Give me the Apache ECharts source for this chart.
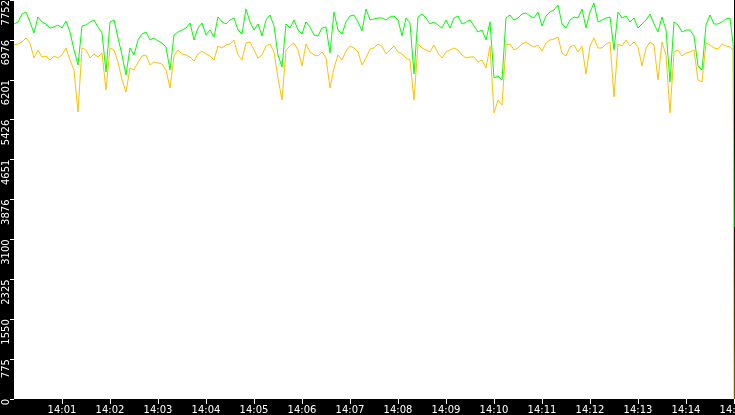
<!DOCTYPE html>
<html>
<head>
<meta charset="utf-8">
<script src="https://cdn.jsdelivr.net/npm/echarts@6/dist/echarts.min.js"></script>
<style>
html,body{margin:0;padding:0;background:#000;overflow:hidden;}
#c{width:735px;height:415px;}
</style>
</head>
<body>
<div id="c"></div>
<script>
// seconds after 14:00:00
const sampleSeconds = [
  0,5,10,15,20,25,30,35,40,45,50,55,60,65,70,75,80,85,90,95,
  100,105,110,115,120,125,130,135,140,145,150,155,160,165,170,175,180,185,190,195,
  200,205,210,215,220,225,230,235,240,245,250,255,260,265,270,275,280,285,290,295,
  300,305,310,315,320,325,330,335,340,345,350,355,360,365,370,375,380,385,390,395,
  400,405,410,415,420,425,430,435,440,445,450,455,460,465,470,475,480,485,490,495,
  500,505,510,515,520,525,530,535,540,545,550,555,560,565,570,575,580,585,590,595,
  600,605,610,615,620,625,630,635,640,645,650,655,660,665,670,675,680,685,690,695,
  700,705,710,715,720,725,730,735,740,745,750,755,760,765,770,775,780,785,790,795,
  800,805,810,815,820,825,830,835,840,845,850,855,860,865,870,875,880,885,890,895,
  899,900
];
const greenValues = [
  7286,7325,7480,7519,7325,7111,7422,7325,7286,7208,
  7228,7266,7208,7344,7130,6781,6489,7247,7266,7325,
  7364,7228,7111,6353,7325,7364,7014,6684,6295,6820,
  6684,6975,7092,7130,6975,7014,6956,6917,6839,6392,
  7072,7130,7169,7208,7305,6975,7208,7305,7072,7169,
  7033,7422,7325,7286,7364,7402,7169,7092,7577,7325,
  7169,7286,7053,7364,7461,7247,6684,6450,7286,7208,
  7364,7169,7092,7325,7228,7072,7053,7208,7228,6722,
  7519,7169,7092,7325,7441,7461,7325,7150,7577,7364,
  7383,7402,7402,7364,7422,7441,7364,7053,7402,7305,
  6314,7422,7480,7402,7286,7325,7266,7208,7364,7208,
  7402,7441,7286,7325,7364,7247,7130,7169,6975,7325,
  6237,6276,6198,7402,7461,7364,7402,7480,7500,7441,
  7402,7519,7247,7441,7519,7558,7655,7286,7208,7364,
  7422,7402,7577,7208,7519,7694,7325,7364,7402,7422,
  6781,7519,7402,7441,7325,7402,7208,7286,7364,7480,
  7286,7130,7422,7169,6159,7325,7266,7130,7169,7169,
  7053,6470,6392,7266,7461,7286,7286,7325,7383,7402,
  6878,3342
];
const orangeValues = [
  6878,6897,6936,7014,6917,6625,6781,6645,6664,6586,
  6664,6625,6684,6820,6586,6392,5576,6820,6781,6625,
  6703,6645,6722,6004,6820,6781,6548,6198,5965,6431,
  6392,6548,6664,6684,6489,6548,6528,6509,6392,6042,
  6664,6781,6703,6684,6645,6567,6703,6761,6703,6664,
  6586,6858,6820,6878,6897,6975,6684,6586,6917,6936,
  6781,6625,6684,6858,6897,6742,6237,5809,6781,6858,
  6917,6781,6470,6897,6742,6684,6664,6742,6625,6042,
  6431,6684,6586,6761,6858,6820,6742,6489,6625,6800,
  6820,6897,6858,6703,6781,6858,6742,6703,6625,6586,
  5809,6897,6820,6781,6742,6878,6722,6625,6742,6781,
  6820,6781,6684,6625,6645,6645,6548,6586,6431,6858,
  5557,5809,5712,6878,6897,6781,6820,6897,6936,6878,
  6839,6878,6761,6917,6975,6994,7033,6722,6664,6839,
  6878,6742,6858,6314,6858,7014,6820,6820,6897,6936,
  5868,6897,6858,6975,6858,6936,6839,6470,6820,6936,
  6878,6198,6936,6684,5557,6742,6781,6664,6722,6742,
  6781,6198,6159,6917,6878,6820,6800,6897,6858,6839,
  6781,0
];
const xTickLabels = ['14:00','14:01','14:02','14:03','14:04','14:05','14:06','14:07',
  '14:08','14:09','14:10','14:11','14:12','14:13','14:14','14:15'];
const yTickLabels = ['0','775','1550','2325','3100','3876','4651','5426','6201','6976','7752'];
const yMax = 7752;
const yStep = 775.2;

const greenData = sampleSeconds.map((s, i) => [s, greenValues[i]]);
const orangeData = sampleSeconds.map((s, i) => [s, orangeValues[i]]);

const chart = echarts.init(document.getElementById('c'), null, {renderer: 'canvas', width: 735, height: 415});
chart.setOption({
  backgroundColor: '#000',
  animation: false,
  grid: {left: 14, right: 1, top: 0, bottom: 16, show: true, backgroundColor: '#fff', borderWidth: 0,
         containLabel: false, outerBoundsMode: 'none'},
  xAxis: {
    type: 'value', min: 0, max: 900, interval: 60,
    axisLine: {show: false},
    axisTick: {show: true, length: 5, lineStyle: {color: '#fff', width: 1}},
    splitLine: {show: false},
    axisLabel: {
      color: '#fff', fontFamily: 'DejaVu Sans', fontSize: 10, margin: 6,
      showMinLabel: false, showMaxLabel: true, hideOverlap: false,
      formatter: v => xTickLabels[Math.round(v / 60)] || ''
    }
  },
  yAxis: {
    type: 'value', min: 0, max: yMax, interval: yStep,
    axisLine: {show: false},
    axisTick: {show: true, length: 4, lineStyle: {color: '#fff', width: 1}},
    splitLine: {show: false},
    axisLabel: {
      rotate: 90, align: 'right', verticalAlign: 'middle', margin: 8,
      color: '#fff', fontFamily: 'DejaVu Sans', fontSize: 10,
      formatter: v => yTickLabels[Math.round(v / yStep)] || ''
    }
  },
  series: [
    {type: 'line', data: greenData, symbol: 'none', showSymbol: false, z: 2,
     lineStyle: {width: 1, color: '#00ff00'}, itemStyle: {color: '#00ff00'}},
    {type: 'line', data: orangeData, symbol: 'none', showSymbol: false, z: 3,
     lineStyle: {width: 1, color: '#ffc000'}, itemStyle: {color: '#ffc000'}}
  ]
});
</script>
</body>
</html>
